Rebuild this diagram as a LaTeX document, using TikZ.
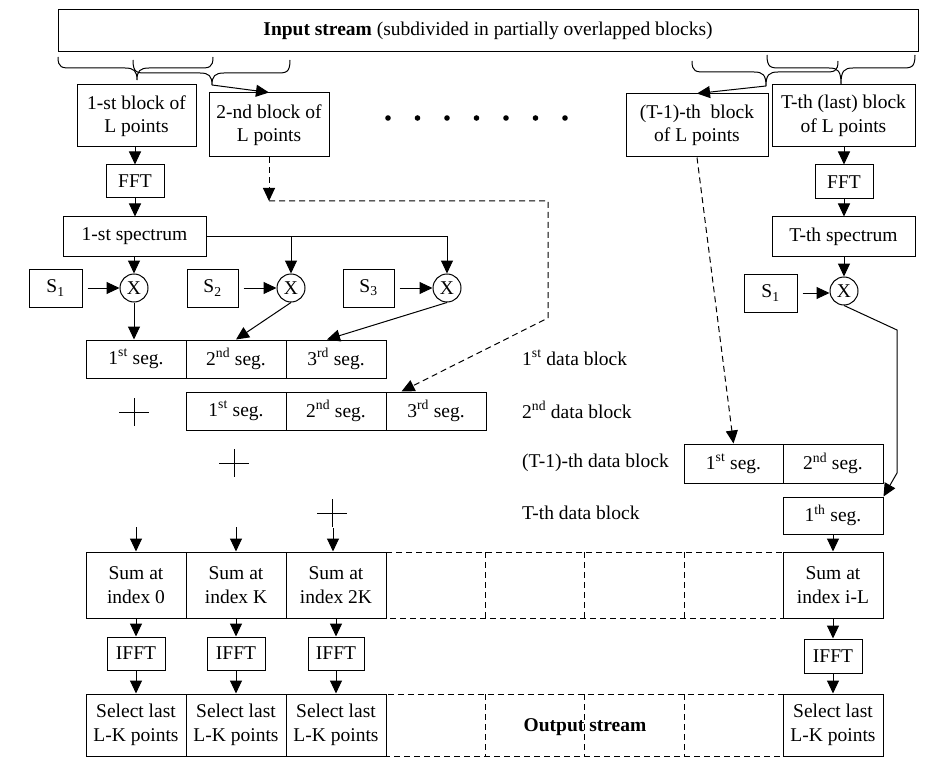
\documentclass[tikz,border=0pt]{standalone}
\usepackage{fontspec}
\setmainfont{Liberation Serif}
\usetikzlibrary{arrows.meta,calc}
% #1 left x, #2 tip x, #3 right x, #4 top y, #5 middle y, #6 tip y, #7 name
\newcommand{\brc}[7]{%
  \draw[ln] (#1,#4) .. controls (#1,#5) and (#1+4,#5) .. ({#1+14},#5) -- ({#2-12},#5)
    .. controls (#2-3,#5) and (#2,#5+3) .. (#2,#6)
    .. controls (#2,#5+3) and (#2+3,#5) .. ({#2+12},#5) -- ({#3-14},#5)
    .. controls (#3-4,#5) and (#3,#5) .. (#3,#4);
  \coordinate (#7) at (#2,#6);}
\begin{document}
\begin{tikzpicture}[x=1pt,y=-1pt,
  every node/.style={font=\fontsize{19.5}{23.5}\selectfont},
  box/.style={draw,line width=1pt,inner sep=0pt,align=center},
  mult/.style={draw,circle,line width=1pt,minimum size=28pt,inner sep=0pt},
  ln/.style={line width=1pt},
  arr/.style={line width=1pt,-{Triangle[length=13pt,width=12pt]}},
  dsh/.style={dash pattern=on 6pt off 4pt},
  lbl/.style={anchor=west,inner sep=0pt}]
\useasboundingbox (0,0) rectangle (945,778);

% input stream
\node[box,minimum width=860pt,minimum height=42pt] (inp) at (488,31) {\textbf{Input stream} (subdivided in partially overlapped blocks)};

% braces
\brc{58}{137}{213}{57}{68}{80}{t1}
\brc{133}{212}{290}{60}{73}{85}{t2}
\brc{692}{766}{838}{61}{72}{86}{t3}
\brc{767}{841}{915}{55}{68}{84}{t4}

% blocks
\node[box,minimum width=119pt,minimum height=62pt] (b1) at (136.5,116) {1-st block of\\L points};
\node[box,minimum width=120pt,minimum height=64pt] (b2) at (269,125) {2-nd block of\\L points};
\node[box,minimum width=142pt,minimum height=63pt] (bT1) at (697,125.5) {(T-1)-th\ \ block\\of L points};
\node[box,minimum width=143pt,minimum height=62pt] (bT) at (843.5,116) {T-th (last) block\\of L points};
\draw[arr] (t2) -- (b2.north);
\draw[arr] (t3) -- (bT1.north);

% dots
\foreach \i in {0,...,6} \fill ({388+29.5*\i},118) circle (2.8);

% left chain
\node[box,minimum width=58pt,minimum height=33pt] (fft1) at (135,181.5) {FFT};
\node[box,minimum width=143pt,minimum height=39pt] (spec1) at (134.5,236.5) {1-st spectrum};
\node[mult] (x1) at (134,288) {X};
\node[mult] (x2) at (291,288) {X};
\node[mult] (x3) at (447,288) {X};
\node[box,minimum width=53pt,minimum height=38pt] (s1) at (55.5,288) {S\textsubscript{1}};
\node[box,minimum width=51pt,minimum height=38pt] (s2) at (212.5,288) {S\textsubscript{2}};
\node[box,minimum width=51pt,minimum height=38pt] (s3) at (368.5,288) {S\textsubscript{3}};
\draw[arr] (b1.south -| fft1) -- (fft1);
\draw[arr] (fft1) -- (fft1 |- spec1.north);
\draw[arr] (spec1.south -| x1) -- (x1);
\draw[ln] (spec1.east) -- (spec1.east -| x3) coordinate (sc3);
\draw[arr] (sc3) -- (x3);
\draw[arr] (spec1.east -| x2) -- (x2);
\draw[arr,shorten <=5pt] (s1) -- (x1);
\draw[arr,shorten <=5pt] (s2) -- (x2);
\draw[arr,shorten <=5pt] (s3) -- (x3);

% data block rows
\node[box,minimum width=100pt,minimum height=38pt] (r1a) at (136,359) {1\textsuperscript{st} seg.};
\node[box,minimum width=100pt,minimum height=38pt] (r1b) at (236,359) {2\textsuperscript{nd} seg.};
\node[box,minimum width=100pt,minimum height=38pt] (r1c) at (336,359) {3\textsuperscript{rd} seg.};
\node[box,minimum width=100pt,minimum height=38pt] (r2a) at (236,411) {1\textsuperscript{st} seg.};
\node[box,minimum width=100pt,minimum height=38pt] (r2b) at (336,411) {2\textsuperscript{nd} seg.};
\node[box,minimum width=100pt,minimum height=38pt] (r2c) at (436,411) {3\textsuperscript{rd} seg.};
\draw[arr] (x1) -- (x1 |- r1a.north);
\draw[arr] (x2.south) -- (r1b.north);
\draw[arr] (x3.south) -- ($(r1c.north)+(-9,0)$);

% plus signs
\foreach \px/\py in {134/412,234/463,332/513}
  \draw[ln] (\px-15,\py) -- (\px+15,\py) (\px,\py-14) -- (\px,\py+14);

% dashed route of 2nd block
\coordinate (c1) at (269,201);
\draw[arr,dsh] (b2.south) -- (c1);
\draw[arr,dsh] (c1) -- (548,201) -- (548,318) -- ($(r2c.north west)+(16,0)$);

% labels
\node[lbl] (l1) at (522,358) {1\textsuperscript{st} data block};
\node[lbl] (l2) at (522,410) {2\textsuperscript{nd} data block};
\node[lbl] (l3) at (522,463) {(T-1)-th data block};
\node[lbl] (l4) at (522,513) {T-th data block};

% right chain
\node[box,minimum width=58pt,minimum height=34pt] (fftT) at (844,182) {FFT};
\node[box,minimum width=143pt,minimum height=39pt] (specT) at (843.5,236.5) {T-th spectrum};
\node[mult] (xT) at (844,291) {X};
\node[box,minimum width=53pt,minimum height=38pt] (sT) at (770.5,293) {S\textsubscript{1}};
\draw[arr] (bT.south -| fftT) -- (fftT);
\draw[arr] (fftT) -- (fftT |- specT.north);
\draw[arr] (specT.south -| xT) -- (xT);
\draw[arr,shorten <=5pt] (sT.east) -- (sT.east -| xT.west);

\node[box,minimum width=99pt,minimum height=39pt] (ta) at (733.5,463.5) {1\textsuperscript{st} seg.};
\node[box,minimum width=100pt,minimum height=39pt] (tb) at (833,463.5) {2\textsuperscript{nd} seg.};
\node[box,minimum width=100pt,minimum height=37pt] (tc) at (833,515.5) {1\textsuperscript{th} seg.};
\draw[arr,dsh] (bT1.south) -- (ta.north);
\coordinate (k1) at (897,330);
\coordinate (k2) at (897,473);
\draw[arr] (xT.south) -- (k1) -- (k2) -- (tc.north east);

% sum row
\draw[ln,dsh] (386,552) rectangle (783,618);
\foreach \vx in {485,584,684} \draw[ln,dsh] (\vx,552) -- (\vx,618);
\draw[ln,dsh] (386,694) rectangle (783,756);
\foreach \vx in {485,584,684} \draw[ln,dsh] (\vx,694) -- (\vx,756);

\node[box,minimum width=100pt,minimum height=66pt] (m1) at (136,585) {Sum at\\index 0};
\node[box,minimum width=100pt,minimum height=66pt] (m2) at (236,585) {Sum at\\index K};
\node[box,minimum width=100pt,minimum height=66pt] (m3) at (336,585) {Sum at\\index 2K};
\node[box,minimum width=100pt,minimum height=66pt] (m4) at (833,585) {Sum at\\index i-L};
\coordinate (a1) at (136,527);
\coordinate (a2) at (236,527);
\coordinate (a3) at (333,528);
\draw[arr] (a1) -- (m1.north);
\draw[arr] (a2) -- (m2.north);
\draw[arr] (a3) -- (a3 |- m3.north);
\draw[arr] (tc.south) -- (m4.north);

\node[box,minimum width=58pt,minimum height=33pt] (i1) at (136,653.5) {IFFT};
\node[box,minimum width=58pt,minimum height=33pt] (i2) at (236,653.5) {IFFT};
\node[box,minimum width=56pt,minimum height=33pt] (i3) at (336,653.5) {IFFT};
\node[box,minimum width=58pt,minimum height=34pt] (i4) at (833,656) {IFFT};

\node[box,minimum width=100pt,minimum height=62pt] (o1) at (136,725) {Select last\\L-K points};
\node[box,minimum width=100pt,minimum height=62pt] (o2) at (236,725) {Select last\\L-K points};
\node[box,minimum width=100pt,minimum height=62pt] (o3) at (336,725) {Select last\\L-K points};
\node[box,minimum width=100pt,minimum height=62pt] (o4) at (833,725) {Select last\\L-K points};
\node (os) at (585,727) {\textbf{Output stream}};

\foreach \n in {1,2,3,4} {
  \draw[arr] (m\n.south) -- (i\n.north);
  \draw[arr] (i\n.south) -- (o\n.north);
}
\end{tikzpicture}
\end{document}
